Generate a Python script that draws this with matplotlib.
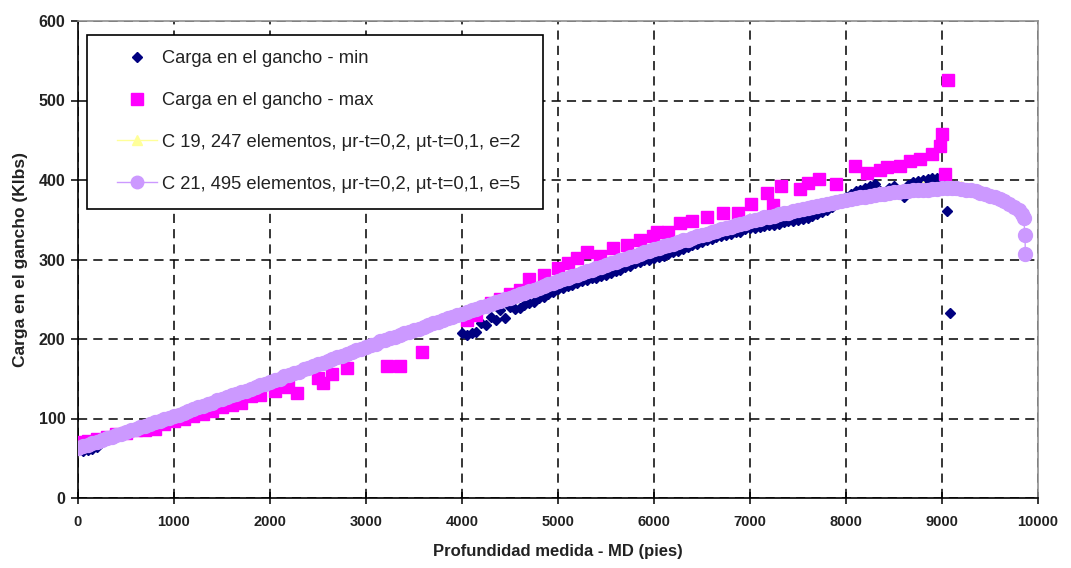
import matplotlib
matplotlib.use("Agg")
import matplotlib.pyplot as plt
from matplotlib.lines import Line2D
from matplotlib.patches import Rectangle

plt.rcParams['font.family'] = ['Liberation Sans', 'DejaVu Sans']

# ---------------- data ----------------
# Simulation C 21 (495 elements), read every 50 ft, plus the last points
c21_x = list(range(0, 9801, 50)) + [9830, 9850, 9865, 9868]
c21_y = [63, 65, 67, 69, 71, 73, 75, 77, 79, 81, 83, 85, 87, 89, 91, 93, 95, 97, 99, 101,
         103, 105, 107, 110, 112, 114, 116, 118, 120, 123, 125, 127, 129, 131, 133, 135, 137, 140, 142, 144,
         146, 148, 150, 153, 155, 157, 159, 162, 164, 166, 168, 170, 172, 175, 177, 179, 181, 184, 186, 188,
         190, 192, 194, 197, 199, 201, 203, 205, 207, 209, 211, 213, 215, 218, 220, 222, 224, 226, 228, 230,
         232, 234, 236, 238, 240, 242, 244, 246, 248, 250, 252, 254, 256, 258, 260, 262, 264, 267, 269, 271,
         273, 275, 277, 279, 281, 283, 285, 287, 289, 291, 293, 295, 297, 299, 301, 303, 305, 307, 309, 311,
         313, 315, 317, 318, 320, 322, 324, 325, 327, 329, 331, 332, 334, 336, 338, 339, 341, 343, 345, 346,
         348, 350, 351, 353, 354, 355, 357, 358, 359, 361, 362, 363, 365, 366, 367, 368, 370, 371, 372, 373,
         375, 376, 377, 378, 379, 380, 381, 382, 383, 384, 385, 385, 386, 386, 387, 387, 388, 388, 389, 389,
         390, 390, 390, 390, 389, 388, 387, 386, 384, 382, 380, 378, 376, 373, 370, 366, 362,
         357, 352, 331, 307]

# Simulation C 19 (247 elements), read every 200 ft
c19_x = [0, 200, 400, 600, 800, 1000, 1200, 1400, 1600, 1800,
         2000, 2200, 2400, 2600, 2800, 3000, 3200, 3400, 3600, 3800,
         4000, 4200, 4400, 4600, 4800, 5000, 5200, 5400, 5600, 5800,
         6000, 6200, 6400, 6600, 6800, 7000, 7200, 7400, 7600, 7800,
         8000, 8200, 8400, 8600, 8800, 9000, 9200, 9400, 9600, 9800]
c19_y = [64, 72, 80, 88, 96, 104, 113, 121, 130, 138,
         147, 156, 165, 173, 182, 191, 200, 208, 216, 225,
         233, 241, 249, 257, 265, 274, 282, 290, 298, 306,
         314, 321, 328, 335, 342, 349, 355, 360, 366, 371,
         376, 380, 385, 388, 392, 393, 392, 388, 378, 364]

# Measured hook load - min
min_x = [0, 50, 100, 150, 200,
         4000, 4050, 4100, 4150, 4200, 4250, 4300, 4350, 4400, 4450,
         4500, 4550, 4600, 4650,
         4700, 4750, 4800, 4850, 4900, 4950, 5000, 5050, 5100, 5150,
         5200, 5250, 5300, 5350, 5400, 5450, 5500, 5550, 5600, 5650,
         5700, 5750, 5800, 5850, 5900, 5950, 6000, 6050, 6100, 6150,
         6200, 6250, 6300, 6350, 6400, 6450, 6500, 6550, 6600, 6650,
         6700, 6750, 6800, 6850, 6900, 6950, 7000, 7050, 7100, 7150,
         7200, 7250, 7300, 7350, 7400, 7450, 7500, 7550, 7600, 7650,
         7700, 7750, 7800, 7850, 7900, 7950, 8000, 8050, 8100, 8150,
         8200, 8250, 8300, 8350, 8400, 8450, 8500, 8550, 8600, 8650,
         8700, 8750, 8800, 8850, 8900, 8950, 9000, 9050, 9080]
min_y = [60, 59, 60, 62, 64,
         207, 205, 207, 209, 220, 218, 228, 224, 236, 226,
         240, 238, 239, 243,
         245, 247, 251, 253, 257, 259, 263, 264, 267, 268,
         270, 273, 274, 277, 277, 279, 280, 283, 285, 287,
         290, 292, 295, 297, 299, 300, 302, 303, 305, 307,
         309, 311, 313, 316, 318, 320, 322, 324, 326, 328,
         330, 331, 332, 334, 335, 338, 339, 340, 341, 342,
         343, 344, 345, 347, 348, 349, 350, 351, 352, 355,
         357, 360, 362, 366, 370, 374, 378, 383, 386, 388,
         390, 393, 395, 386, 385, 390, 392, 385, 378, 394,
         398, 399, 400, 401, 402, 402, 402, 361, 233]

# Measured hook load - max
max_x = [0, 100, 200, 300, 400, 500, 600, 700, 800, 900,
         1000, 1100, 1200, 1300, 1400, 1500, 1600, 1700, 1800, 1900,
         2050, 2190, 2280, 2500, 2550, 2650, 2800, 3220, 3350, 3580,
         4050, 4150, 4300, 4400, 4500, 4600, 4700, 4850, 5000, 5100,
         5200, 5300, 5440, 5570, 5720, 5850, 5990, 6030, 6150, 6270,
         6400, 6550, 6720, 6870, 7010, 7180, 7240, 7320, 7520, 7600,
         7720, 7900, 8090, 8220, 8350, 8430, 8560, 8670, 8770, 8900,
         8980, 9000, 9030, 9065]
max_y = [70, 72, 74, 77, 80, 82, 85, 85, 87, 93,
         97, 100, 103, 106, 110, 115, 117, 120, 128, 130,
         134, 140, 132, 151, 145, 156, 164, 166, 166, 184,
         224, 230, 245, 250, 256, 262, 276, 280, 289, 296,
         302, 309, 305, 314, 318, 324, 330, 334, 335, 346,
         348, 353, 358, 358, 370, 384, 368, 392, 389, 396,
         401, 395, 418, 409, 412, 416, 418, 424, 427, 433,
         443, 458, 408, 526]

labels = ["Carga en el gancho - min",
          "Carga en el gancho - max",
          "C 19, 247 elementos, \u03bcr-t=0,2, \u03bct-t=0,1, e=2",
          "C 21, 495 elementos, \u03bcr-t=0,2, \u03bct-t=0,1, e=5"]

NAVY = '#000080'
MAGENTA = '#FF00FF'
YELLOW = '#FFFF99'
LAVENDER = '#CC99FF'

# ---------------- figure ----------------
W, H = 1071, 568
fig = plt.figure(figsize=(W/100, H/100), dpi=100)
L, R, T, B = 78, 1038, 21, 498
ax = fig.add_axes([L/W, 1-B/H, (R-L)/W, (B-T)/H])

def ax_xy(px, py):
    return ((px-L)/(R-L), (B-py)/(B-T))

ax.plot(min_x, min_y, linestyle='none', marker='D', markersize=5.5,
        color=NAVY, markeredgecolor=NAVY, zorder=3)
ax.plot(max_x, max_y, linestyle='none', marker='s', markersize=8.5,
        color=MAGENTA, markeredgecolor=MAGENTA, zorder=4)
ax.plot(c19_x, c19_y, linestyle='-', linewidth=1, marker='^', markersize=7,
        color=YELLOW, markeredgecolor=YELLOW, zorder=5)
ax.plot(c21_x, c21_y, linestyle='-', linewidth=1, marker='o', markersize=10,
        color=LAVENDER, markeredgecolor=LAVENDER, zorder=6)

ax.set_xlim(0, 10000)
ax.set_ylim(0, 600)
ax.set_xticks(range(0, 10001, 1000))
ax.set_yticks(range(0, 601, 100))

ax.grid(True, color='black', linestyle=(0, (6, 4)), linewidth=1.1)
ax.set_axisbelow(True)

for s in ['top', 'right']:
    ax.spines[s].set_color('#909090')
    ax.spines[s].set_linewidth(1.2)
for s in ['left', 'bottom']:
    ax.spines[s].set_color('black')
    ax.spines[s].set_linewidth(1.2)

ax.tick_params(axis='y', direction='out', length=5, width=1.1,
               labelsize=11.5, pad=4)
ax.tick_params(axis='x', direction='inout', length=8, width=1.1,
               labelsize=10.5, pad=8)
for lab in ax.get_xticklabels() + ax.get_yticklabels():
    lab.set_fontweight('bold')
    lab.set_color('#222222')

ax.set_xlabel('Profundidad medida - MD (pies)', fontsize=12, fontweight='bold',
              labelpad=11, color='#222222')
ax.set_ylabel('Carga en el gancho (Klbs)', fontsize=12.5, fontweight='bold',
              labelpad=8, color='#222222')

# legend frame (drawn as a box matching the reference position)
x0, y0 = ax_xy(87, 209)
x1, y1 = ax_xy(543, 35)
ax.add_patch(Rectangle((x0, y0), x1-x0, y1-y0, transform=ax.transAxes,
                       facecolor='white', edgecolor='black', linewidth=1.2,
                       zorder=9))

handles = [
    Line2D([], [], linestyle='none', marker='D', markersize=5.5, color=NAVY),
    Line2D([], [], linestyle='none', marker='s', markersize=8.5, color=MAGENTA),
    Line2D([], [], linestyle='-', linewidth=1, marker='^', markersize=7, color=YELLOW),
    Line2D([], [], linestyle='-', linewidth=1, marker='o', markersize=9, color=LAVENDER),
]
leg = ax.legend(handles, labels, loc='upper left',
                bbox_to_anchor=ax_xy(117, 50), borderaxespad=0,
                fontsize=13.2, labelspacing=1.36, handlelength=2.2,
                handletextpad=0.28, borderpad=0, frameon=False)
for t in leg.get_texts():
    t.set_color('#222222')
leg.set_zorder(10)

fig.savefig('out.png', dpi=100)
